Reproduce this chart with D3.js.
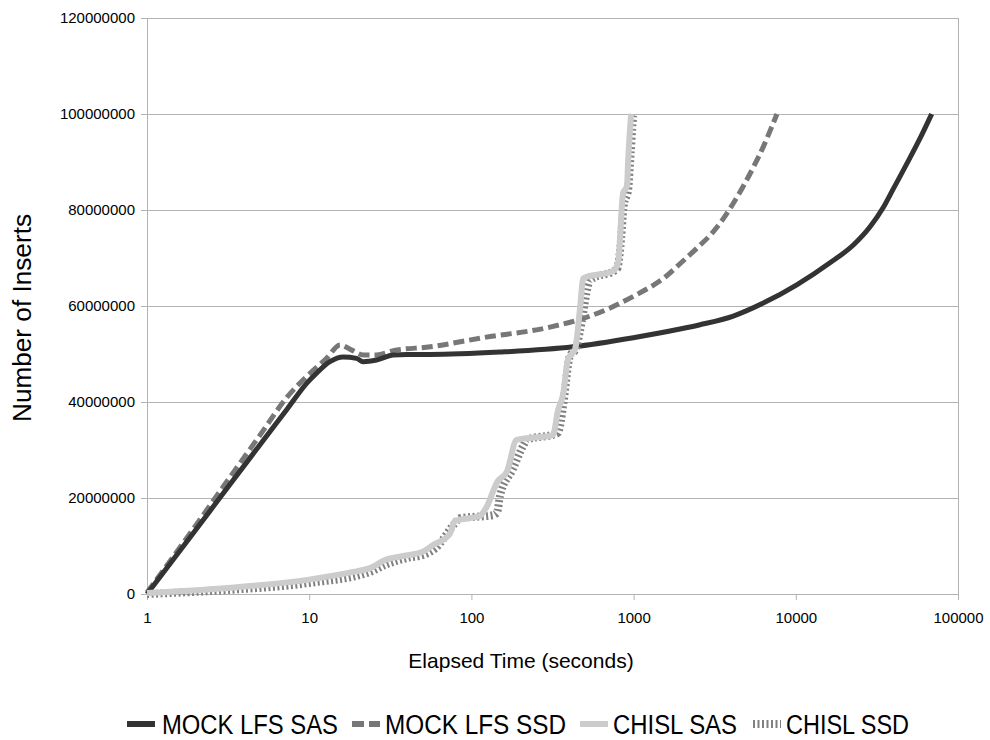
<!DOCTYPE html>
<html>
<head>
<meta charset="utf-8">
<script src="https://cdn.jsdelivr.net/npm/d3@7"></script>
<style>
  html, body { margin: 0; padding: 0; background: #fff; }
  svg { display: block; }
</style>
</head>
<body>
<svg id="chart" width="990" height="740"></svg>
<script>
// ---- data ----
const seriesNames = ["MOCK LFS SAS", "MOCK LFS SSD", "CHISL SAS", "CHISL SSD"];

const mockSasTime = [1, 2, 3, 5, 7.3, 9.7, 11.1, 13.4, 16.2, 19.6, 21.5, 26, 33, 40, 55.6, 150, 423, 996, 1932, 2567, 4120, 6300, 10140, 16250, 22630, 28700, 34600, 39900, 48300, 58300, 68800];
const mockSasVals = [0, 13.4e6, 21.3e6, 31.2e6, 38.5e6, 44e6, 46e6, 48.4e6, 49.4e6, 49.1e6, 48.4e6, 48.75e6, 49.8e6, 49.9e6, 49.9e6, 50.4e6, 51.5e6, 53.4e6, 55.2e6, 56.1e6, 57.9e6, 60.6e6, 64.4e6, 69.0e6, 72.7e6, 76.5e6, 80.5e6, 84.4e6, 89.6e6, 94.9e6, 100e6];

const mockSsdTime = [1, 2, 3, 5, 7.3, 9.64, 12.8, 15.5, 18.3, 21.5, 26, 33, 55.6, 118, 305, 539, 996, 1600, 1932, 2449, 3103, 3575, 4120, 4753, 5474, 6310, 7100, 7650];
const mockSsdVals = [0.3e6, 14.3e6, 22.7e6, 33.2e6, 41e6, 45.3e6, 49.1e6, 51.9e6, 50.8e6, 49.8e6, 49.8e6, 50.7e6, 51.5e6, 53.4e6, 55.6e6, 57.9e6, 62.0e6, 66.3e6, 68.8e6, 72.0e6, 75.5e6, 78.2e6, 81.4e6, 85.0e6, 88.9e6, 93.2e6, 97.3e6, 100e6];

const chislSasTime = [1, 3, 10, 18, 23.7, 30, 36, 50, 58, 73.6, 79, 113, 124, 144, 166, 190, 318, 342, 367, 395, 436, 467, 490, 748, 804, 861, 910, 927, 965];
const chislSasVals = [0.2e6, 1.2e6, 3.0e6, 4.5e6, 5.4e6, 7.2e6, 7.8e6, 8.8e6, 10.2e6, 12.5e6, 15.2e6, 16.3e6, 18.1e6, 23.3e6, 25.6e6, 32.1e6, 33.1e6, 38.3e6, 41.5e6, 49e6, 51e6, 59.4e6, 65.8e6, 67.3e6, 69.2e6, 83.5e6, 85e6, 90.8e6, 100e6];

const chislSsdTime = [1, 3, 10, 23.7, 30, 40, 52, 60, 78, 85, 135, 144, 150, 180, 208, 220, 340, 352, 370, 405, 440, 467, 540, 790, 825, 870, 925, 960, 1000, 1020];
const chislSsdVals = [0, 0.8e6, 2.3e6, 4.6e6, 6.2e6, 7.5e6, 8.3e6, 9.5e6, 14.5e6, 15.8e6, 16.4e6, 17e6, 20.4e6, 26e6, 30.8e6, 32.1e6, 33.5e6, 35e6, 40e6, 49.6e6, 51e6, 54.8e6, 65.4e6, 67.7e6, 71.5e6, 81e6, 84.2e6, 92e6, 99.8e6, 100e6];

const xTicks = [1, 10, 100, 1000, 10000, 100000];
const yTicks = [0, 20000000, 40000000, 60000000, 80000000, 100000000, 120000000];

// ---- layout ----
const W = 990, H = 740;
const margin = {left: 147, right: 32, top: 18, bottom: 146};
const iw = W - margin.left - margin.right;
const ih = H - margin.top - margin.bottom;

const svg = d3.select("#chart");
const g = svg.append("g").attr("transform", `translate(${margin.left},${margin.top})`);

const x = d3.scaleLog().domain([1, 100000]).range([0, iw]);
const y = d3.scaleLinear().domain([0, 120000000]).range([ih, 0]);

const gridColor = "#b3b3b3";
const font = "'Liberation Sans', Arial, sans-serif";

// horizontal gridlines
g.append("g").selectAll("line").data(yTicks).join("line")
  .attr("x1", 0).attr("x2", iw)
  .attr("y1", d => y(d)).attr("y2", d => y(d))
  .attr("stroke", gridColor).attr("stroke-width", 1).attr("shape-rendering", "crispEdges");

// right border
g.append("line").attr("x1", iw).attr("x2", iw).attr("y1", 0).attr("y2", ih)
  .attr("stroke", gridColor).attr("shape-rendering", "crispEdges");

// y axis
const yAxis = g.append("g")
  .call(d3.axisLeft(y).tickValues(yTicks).tickSize(6).tickPadding(6).tickFormat(d3.format("d")));
yAxis.select(".domain").attr("stroke", gridColor);
yAxis.selectAll(".tick line").attr("stroke", gridColor);
yAxis.selectAll(".tick text").attr("font-family", font).attr("font-size", 15).attr("fill", "#000");

// x axis
const xAxis = g.append("g").attr("transform", `translate(0,${ih})`)
  .call(d3.axisBottom(x).tickValues(xTicks).tickSize(6).tickPadding(12).tickFormat(d3.format("d")));
xAxis.select(".domain").attr("stroke", gridColor);
xAxis.selectAll(".tick line").attr("stroke", gridColor);
xAxis.selectAll(".tick text").attr("font-family", font).attr("font-size", 15).attr("fill", "#000");

// axis titles
svg.append("text").attr("x", 521).attr("y", 668)
  .attr("text-anchor", "middle").attr("font-family", font).attr("font-size", 21)
  .text("Elapsed Time (seconds)");
svg.append("text").attr("transform", `translate(31,318) rotate(-90)`)
  .attr("text-anchor", "middle").attr("font-family", font).attr("font-size", 25)
  .attr("textLength", 208).attr("lengthAdjust", "spacingAndGlyphs")
  .text("Number of Inserts");

// series
const series = [
  {name: seriesNames[0], t: mockSasTime, v: mockSasVals, color: "#333333", width: 5, dash: null},
  {name: seriesNames[1], t: mockSsdTime, v: mockSsdVals, color: "#777777", width: 5, dash: "11,5"},
  {name: seriesNames[2], t: chislSasTime, v: chislSasVals, color: "#cccccc", width: 6, dash: null},
  {name: seriesNames[3], t: chislSsdTime, v: chislSsdVals, color: "#808080", width: 8, dash: "2,2.5"}
];

const line = d3.line().x(d => x(d[0])).y(d => y(d[1])).curve(d3.curveMonotoneX);

// draw order: mock SSD, mock SAS, chisl SSD, chisl SAS (grey on top of dotted)
const drawOrder = [1, 0, 3, 2];
drawOrder.forEach(i => {
  const s = series[i];
  const pts = s.t.map((t, k) => [t, s.v[k]]);
  g.append("path").datum(pts)
    .attr("d", line)
    .attr("fill", "none")
    .attr("stroke", s.color)
    .attr("stroke-width", s.width)
    .attr("stroke-dasharray", s.dash)
    .attr("stroke-linejoin", "round");
});

// legend
const legendX = [127, 352, 580, 753];
const legendTextLen = [176, 181, 124, 123];
const legendY = 724;
const leg = svg.append("g");
series.forEach((s, i) => {
  const lg = leg.append("g").attr("transform", `translate(${legendX[i]},${legendY})`);
  lg.append("line").attr("x1", 0).attr("x2", 28).attr("y1", 0).attr("y2", 0)
    .attr("stroke", s.color).attr("stroke-width", i === 3 ? 8 : 6)
    .attr("stroke-dasharray", i === 1 ? "12,5" : (i === 3 ? "2,2.5" : null));
  lg.append("text").attr("x", i === 0 ? 35 : 33).attr("y", 10)
    .attr("font-family", font)
    .attr("font-size", 27).attr("fill", "#000")
    .attr("textLength", legendTextLen[i]).attr("lengthAdjust", "spacingAndGlyphs")
    .text(s.name);
});
</script>
</body>
</html>
